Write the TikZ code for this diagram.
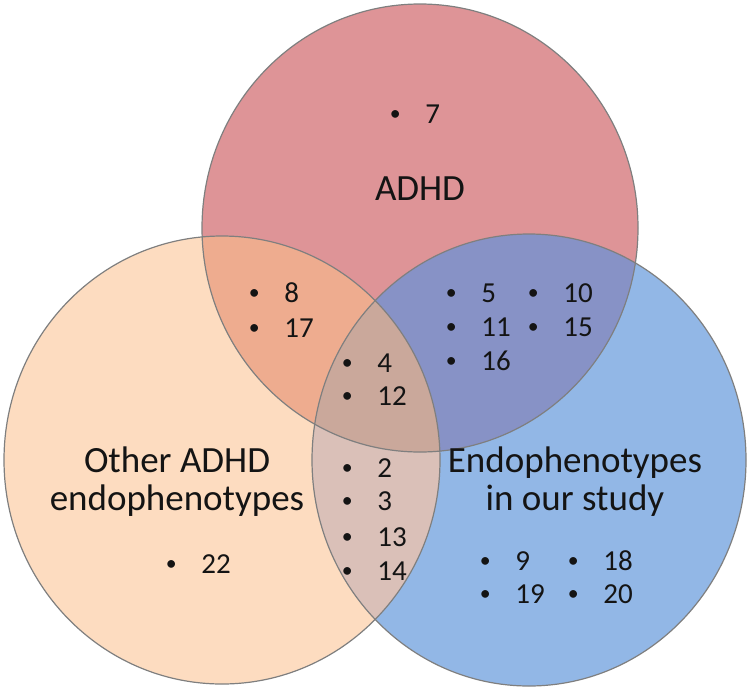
\documentclass[tikz,border=0pt]{standalone}
\usepackage{fontspec}
\setmainfont{Carlito}

\definecolor{adhdfill}{HTML}{DE9497}
\definecolor{otherfill}{HTML}{FDDCC0}
\definecolor{studyfill}{HTML}{92B7E6}
\definecolor{adhdother}{HTML}{EEAC8F}
\definecolor{adhdstudy}{HTML}{8792C6}
\definecolor{otherstudy}{HTML}{DAC0B8}
\definecolor{allthree}{HTML}{CAA89B}
\definecolor{rimgray}{HTML}{7F7F7F}
\definecolor{txt}{HTML}{141414}

\newcommand\adhdset{(420,228) ellipse [x radius=218, y radius=224]}
\newcommand\otherset{(222,460) ellipse [x radius=218, y radius=224]}
\newcommand\studyset{(529,460) ellipse [x radius=217, y radius=226]}
\newcommand\itm[1]{\makebox[0pt]{\raisebox{0.1em}{\scalebox{0.75}{\textbullet}}}\hspace{15pt}#1}

\begin{document}
\begin{tikzpicture}[x=0.5pt, y=-0.5pt,
    setname/.style={font=\fontsize{18.5}{19}\selectfont, align=center, text=txt, inner sep=0},
    entry/.style={font=\fontsize{14.5}{16}\selectfont, anchor=base west, text=txt, inner sep=0},
    rim/.style={draw=rimgray, line width=0.6pt}]
    \useasboundingbox (0,0) rectangle (753,691);

    \fill[otherfill] \otherset;
    \fill[adhdfill] \adhdset;
    \fill[studyfill] \studyset;
    \begin{scope}
        \clip \adhdset;
        \fill[adhdother] \otherset;
        \fill[adhdstudy] \studyset;
    \end{scope}
    \begin{scope}
        \clip \otherset;
        \fill[otherstudy] \studyset;
    \end{scope}
    \begin{scope}
        \clip \adhdset;
        \clip \otherset;
        \fill[allthree] \studyset;
    \end{scope}
    \draw[rim] \otherset;
    \draw[rim] \adhdset;
    \draw[rim] \studyset;

    \node[setname, anchor=base] (adhd) at (420,200) {ADHD};
    \node[setname] (other) at (177,482) {Other ADHD\\endophenotypes};
    \node[setname] (study) at (575,482) {Endophenotypes\\in our study};

    \node[entry] (i7) at (395,123) {\itm{7}};
    \node[entry] (i8) at (254,302) {\itm{8}};
    \node[entry] (i17) at (254,337) {\itm{17}};
    \node[entry] (i4) at (347,372) {\itm{4}};
    \node[entry] (i12) at (347,405) {\itm{12}};
    \node[entry] (i5) at (451,302) {\itm{5}};
    \node[entry] (i10) at (533,302) {\itm{10}};
    \node[entry] (i11) at (451,336) {\itm{11}};
    \node[entry] (i15) at (533,336) {\itm{15}};
    \node[entry] (i16) at (451,370) {\itm{16}};
    \node[entry] (i2) at (347,477) {\itm{2}};
    \node[entry] (i3) at (347,510) {\itm{3}};
    \node[entry] (i13) at (347,546) {\itm{13}};
    \node[entry] (i14) at (347,580) {\itm{14}};
    \node[entry] (i22) at (171,573) {\itm{22}};
    \node[entry] (i9) at (485,570) {\itm{9}};
    \node[entry] (i18) at (573,570) {\itm{18}};
    \node[entry] (i19) at (485,603) {\itm{19}};
    \node[entry] (i20) at (573,603) {\itm{20}};
\end{tikzpicture}
\end{document}
